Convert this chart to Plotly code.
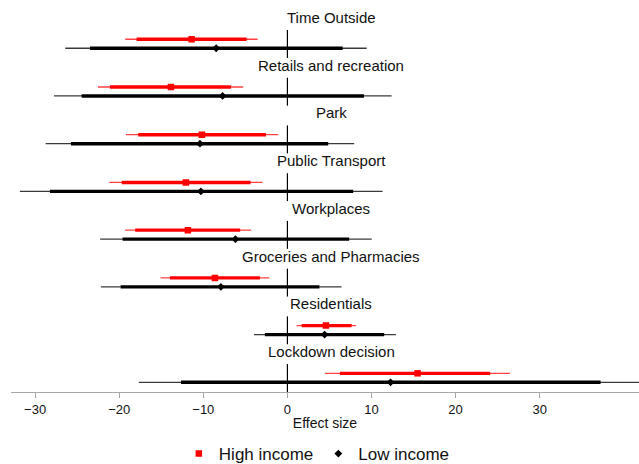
import plotly.graph_objects as go
from plotly.subplots import make_subplots

# Outcomes (one panel each, top to bottom)
categories = [
    "Time Outside",
    "Retails and recreation",
    "Park",
    "Public Transport",
    "Workplaces",
    "Groceries and Pharmacies",
    "Residentials",
    "Lockdown decision",
]

# High income: point estimate, outer interval, inner interval
high_est = [-11.39, -13.85, -10.17, -12.07, -11.84, -8.62, 4.58, 15.48]
high_outer_lo = [-19.29, -22.53, -19.20, -21.19, -19.30, -15.08, 1.09, 4.46]
high_outer_hi = [-3.54, -5.25, -1.09, -2.95, -4.32, -2.16, 8.15, 26.46]
high_inner_lo = [-17.93, -21.11, -17.74, -19.71, -18.10, -13.97, 1.69, 6.24]
high_inner_hi = [-4.85, -6.72, -2.56, -4.38, -5.62, -3.27, 7.63, 24.11]

# Low income: point estimate, outer interval, inner interval
low_est = [-8.47, -7.71, -10.40, -10.29, -6.18, -7.91, 4.42, 12.27]
low_outer_lo = [-26.42, -27.76, -28.75, -31.81, -22.27, -22.18, -3.98, -17.67]
low_outer_hi = [9.43, 12.39, 7.94, 11.32, 10.03, 6.44, 12.90, 45.0]
low_inner_lo = [-23.48, -24.47, -25.74, -28.24, -19.60, -19.83, -2.68, -12.66]
low_inner_hi = [6.57, 9.10, 4.85, 7.82, 7.34, 3.80, 11.51, 37.24]

# Axis
tick_vals = [-30, -20, -10, 0, 10, 20, 30]
x_range = [-32.87, 41.81]
reference_value = 0

FONT = "Liberation Sans, Arial, Helvetica, sans-serif"

series = [
    dict(name="High income", row_y=1, est=high_est,
         outer=(high_outer_lo, high_outer_hi), inner=(high_inner_lo, high_inner_hi),
         color="#ff0000", thin_color="rgba(255,30,30,0.85)",
         symbol="square", size=6.5, rank=1),
    dict(name="Low income", row_y=0, est=low_est,
         outer=(low_outer_lo, low_outer_hi), inner=(low_inner_lo, low_inner_hi),
         color="#000000", thin_color="#3a3a3a",
         symbol="diamond", size=6, rank=2),
]

n = len(categories)
fig = make_subplots(rows=n, cols=1, shared_xaxes=True, vertical_spacing=0.0547)

for i in range(n):
    row = i + 1
    for s in series:
        yy = [s["row_y"], s["row_y"]]
        fig.add_trace(go.Scatter(
            x=[s["outer"][0][i], s["outer"][1][i]], y=yy, mode="lines",
            line=dict(color=s["thin_color"], width=1.3),
            hoverinfo="skip", showlegend=False, legendgroup=s["name"]),
            row=row, col=1)
        fig.add_trace(go.Scatter(
            x=[s["inner"][0][i], s["inner"][1][i]], y=yy, mode="lines",
            line=dict(color=s["color"], width=3.4),
            hoverinfo="skip", showlegend=False, legendgroup=s["name"]),
            row=row, col=1)
    for s in series:
        fig.add_trace(go.Scatter(
            x=[s["est"][i]], y=[s["row_y"]], mode="markers", name=s["name"],
            marker=dict(color=s["color"], symbol=s["symbol"], size=s["size"],
                        line=dict(width=0)),
            showlegend=(i == 0), legendgroup=s["name"], legendrank=s["rank"]),
            row=row, col=1)
    fig.add_vline(x=reference_value, line=dict(color="black", width=1.2),
                  row=row, col=1)
    yref = "y domain" if row == 1 else f"y{row} domain"
    fig.add_annotation(text=categories[i], xref="paper", x=0.5096,
                       yref=yref, y=1, yanchor="middle", yshift=12.5,
                       showarrow=False, font=dict(size=15, color="#111111"))

fig.update_yaxes(range=[-1.08, 2.03], visible=False, fixedrange=True)
fig.update_xaxes(range=x_range, showgrid=False, zeroline=False,
                 showline=False, ticks="", showticklabels=False)
fig.update_xaxes(row=n, col=1, showline=True, linecolor="#a8a8a8", linewidth=1.3,
                 ticks="outside", ticklen=5, tickcolor="#a8a8a8", tickwidth=1.3,
                 tickvals=tick_vals, showticklabels=True,
                 tickfont=dict(size=13, color="#111111"),
                 title=dict(text="Effect size", font=dict(size=14, color="#111111"),
                            standoff=2))

fig.update_layout(
    width=639, height=464,
    margin=dict(l=11, r=0, t=30, b=72),
    paper_bgcolor="white", plot_bgcolor="white",
    font=dict(family=FONT, color="#111111"),
    showlegend=True,
    legend=dict(orientation="h", x=0.487, xanchor="center",
                yref="container", y=0.0216, yanchor="middle",
                font=dict(size=17, color="#111111"), itemwidth=30,
                traceorder="normal"),
)

fig.write_html("out.html")
